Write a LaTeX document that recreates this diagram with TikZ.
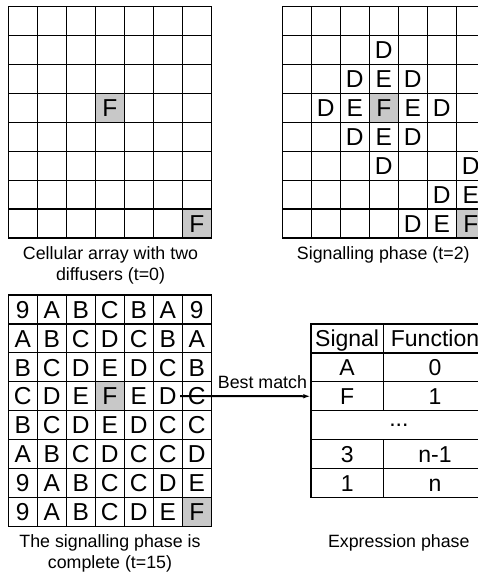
\documentclass[tikz,border=0pt]{standalone}
\usepackage{fontspec}
\setmainfont{Liberation Sans}
\usetikzlibrary{arrows.meta,backgrounds}
\definecolor{cellgray}{RGB}{200,200,200}
\begin{document}
\begin{tikzpicture}[x=1pt,y=-1pt,
  cell/.style={draw=black,line width=1.2pt,minimum width=29pt,minimum height=28.9pt,
    inner sep=0pt,font=\fontsize{24.5}{24.5}\selectfont,text height=17.5pt,text depth=0pt},
  letter/.style={inner sep=0pt,font=\fontsize{24.5}{24.5}\selectfont,text height=17.5pt,text depth=0pt},
  tcell/.style={draw=black,line width=1.2pt,minimum height=28.9pt,inner sep=0pt,
    font=\fontsize{23}{23}\selectfont,text height=16.5pt,text depth=0pt},
  caption/.style={inner sep=0pt,anchor=base,font=\fontsize{17.8}{17.8}\selectfont}]
\useasboundingbox (0,0) rectangle (478,574);

% ---------- grid 1 ----------
\foreach \i in {1,...,8}{
  \foreach \j in {1,...,7}{
    \node[cell] (a-\i-\j) at ({8.3+(\j-0.5)*29},{6.7+(\i-0.5)*28.9}) {};
  }
}
\foreach \i/\j/\t in {4/4/F,8/7/F}{
  \node[letter] (al-\i-\j) at (a-\i-\j) {\t};
}

% ---------- grid 2 ----------
\foreach \i in {1,...,8}{
  \foreach \j in {1,...,7}{
    \node[cell] (b-\i-\j) at ({282.3+(\j-0.5)*29},{6.7+(\i-0.5)*28.9}) {};
  }
}
\foreach \i/\j/\t in {2/4/D,3/3/D,3/4/E,3/5/D,4/2/D,4/3/E,4/4/F,4/5/E,4/6/D,
  5/3/D,5/4/E,5/5/D,6/4/D,6/7/D,7/6/D,7/7/E,8/5/D,8/6/E,8/7/F}{
  \node[letter] (bl-\i-\j) at (b-\i-\j) {\t};
}

% ---------- grid 3 ----------
\foreach \row [count=\i] in {{9,A,B,C,B,A,9},{A,B,C,D,C,B,A},{B,C,D,E,D,C,B},
  {C,D,E,F,E,D,C},{B,C,D,E,D,C,C},{A,B,C,D,C,C,D},{9,A,B,C,C,D,E},{9,A,B,C,D,E,F}}{
  \foreach \t [count=\j] in \row {
    \node[cell] (c-\i-\j) at ({8.3+(\j-0.5)*29},{295+(\i-0.5)*28.9}) {\t};
  }
}

% ---------- white page and gray diffuser cells ----------
\begin{scope}[on background layer]
  \fill[white] (0,0) rectangle (478,574);
  \foreach \n in {a-4-4,a-8-7,b-4-4,b-8-7,c-4-4,c-8-7}{
    \fill[cellgray] (\n.south west) rectangle (\n.north east);
  }
\end{scope}

% ---------- table ----------
\node[tcell,minimum width=72.3pt] (t-s) at (347.15,338.45) {Signal};
\node[tcell,minimum width=103.4pt] (t-f) at (435,338.45) {Function};
\node[tcell,minimum width=72.3pt] (t-a) at (347.15,367.35) {A};
\node[tcell,minimum width=103.4pt] (t-0) at (435,367.35) {0};
\node[tcell,minimum width=72.3pt] (t-F) at (347.15,396.25) {F};
\node[tcell,minimum width=103.4pt] (t-1) at (435,396.25) {1};
\node[draw=black,line width=1.2pt,minimum height=28.9pt,minimum width=175.7pt,inner sep=0pt,
  font=\fontsize{23}{23}\selectfont] (t-dots) at (398.85,425.15) {...};
\node[tcell,minimum width=72.3pt] (t-3) at (347.15,454.05) {3};
\node[tcell,minimum width=103.4pt] (t-n1) at (435,454.05) {n-1};
\node[tcell,minimum width=72.3pt] (t-one) at (347.15,482.95) {1};
\node[tcell,minimum width=103.4pt] (t-n) at (435,482.95) {n};

% ---------- arrow ----------
\draw[line width=2pt,-{Latex[length=7pt,width=4.5pt]}] ([xshift=-1.5pt]c-4-7.west) -- (t-F.west);
\node[caption] (best) at (262.4,388) {Best match};

% ---------- captions ----------
\node[caption] (cap1a) at (110.5,259.3) {Cellular array with two};
\node[caption] (cap1b) at (110.5,280.3) {diffusers (t=0)};
\node[caption] (cap2) at (383.3,259.3) {Signalling phase (t=2)};
\node[caption] (cap3a) at (110,547.3) {The signalling phase is};
\node[caption] (cap3b) at (110,568.3) {complete (t=15)};
\node[caption] (cap4) at (398.8,547.3) {Expression phase};
\end{tikzpicture}
\end{document}
